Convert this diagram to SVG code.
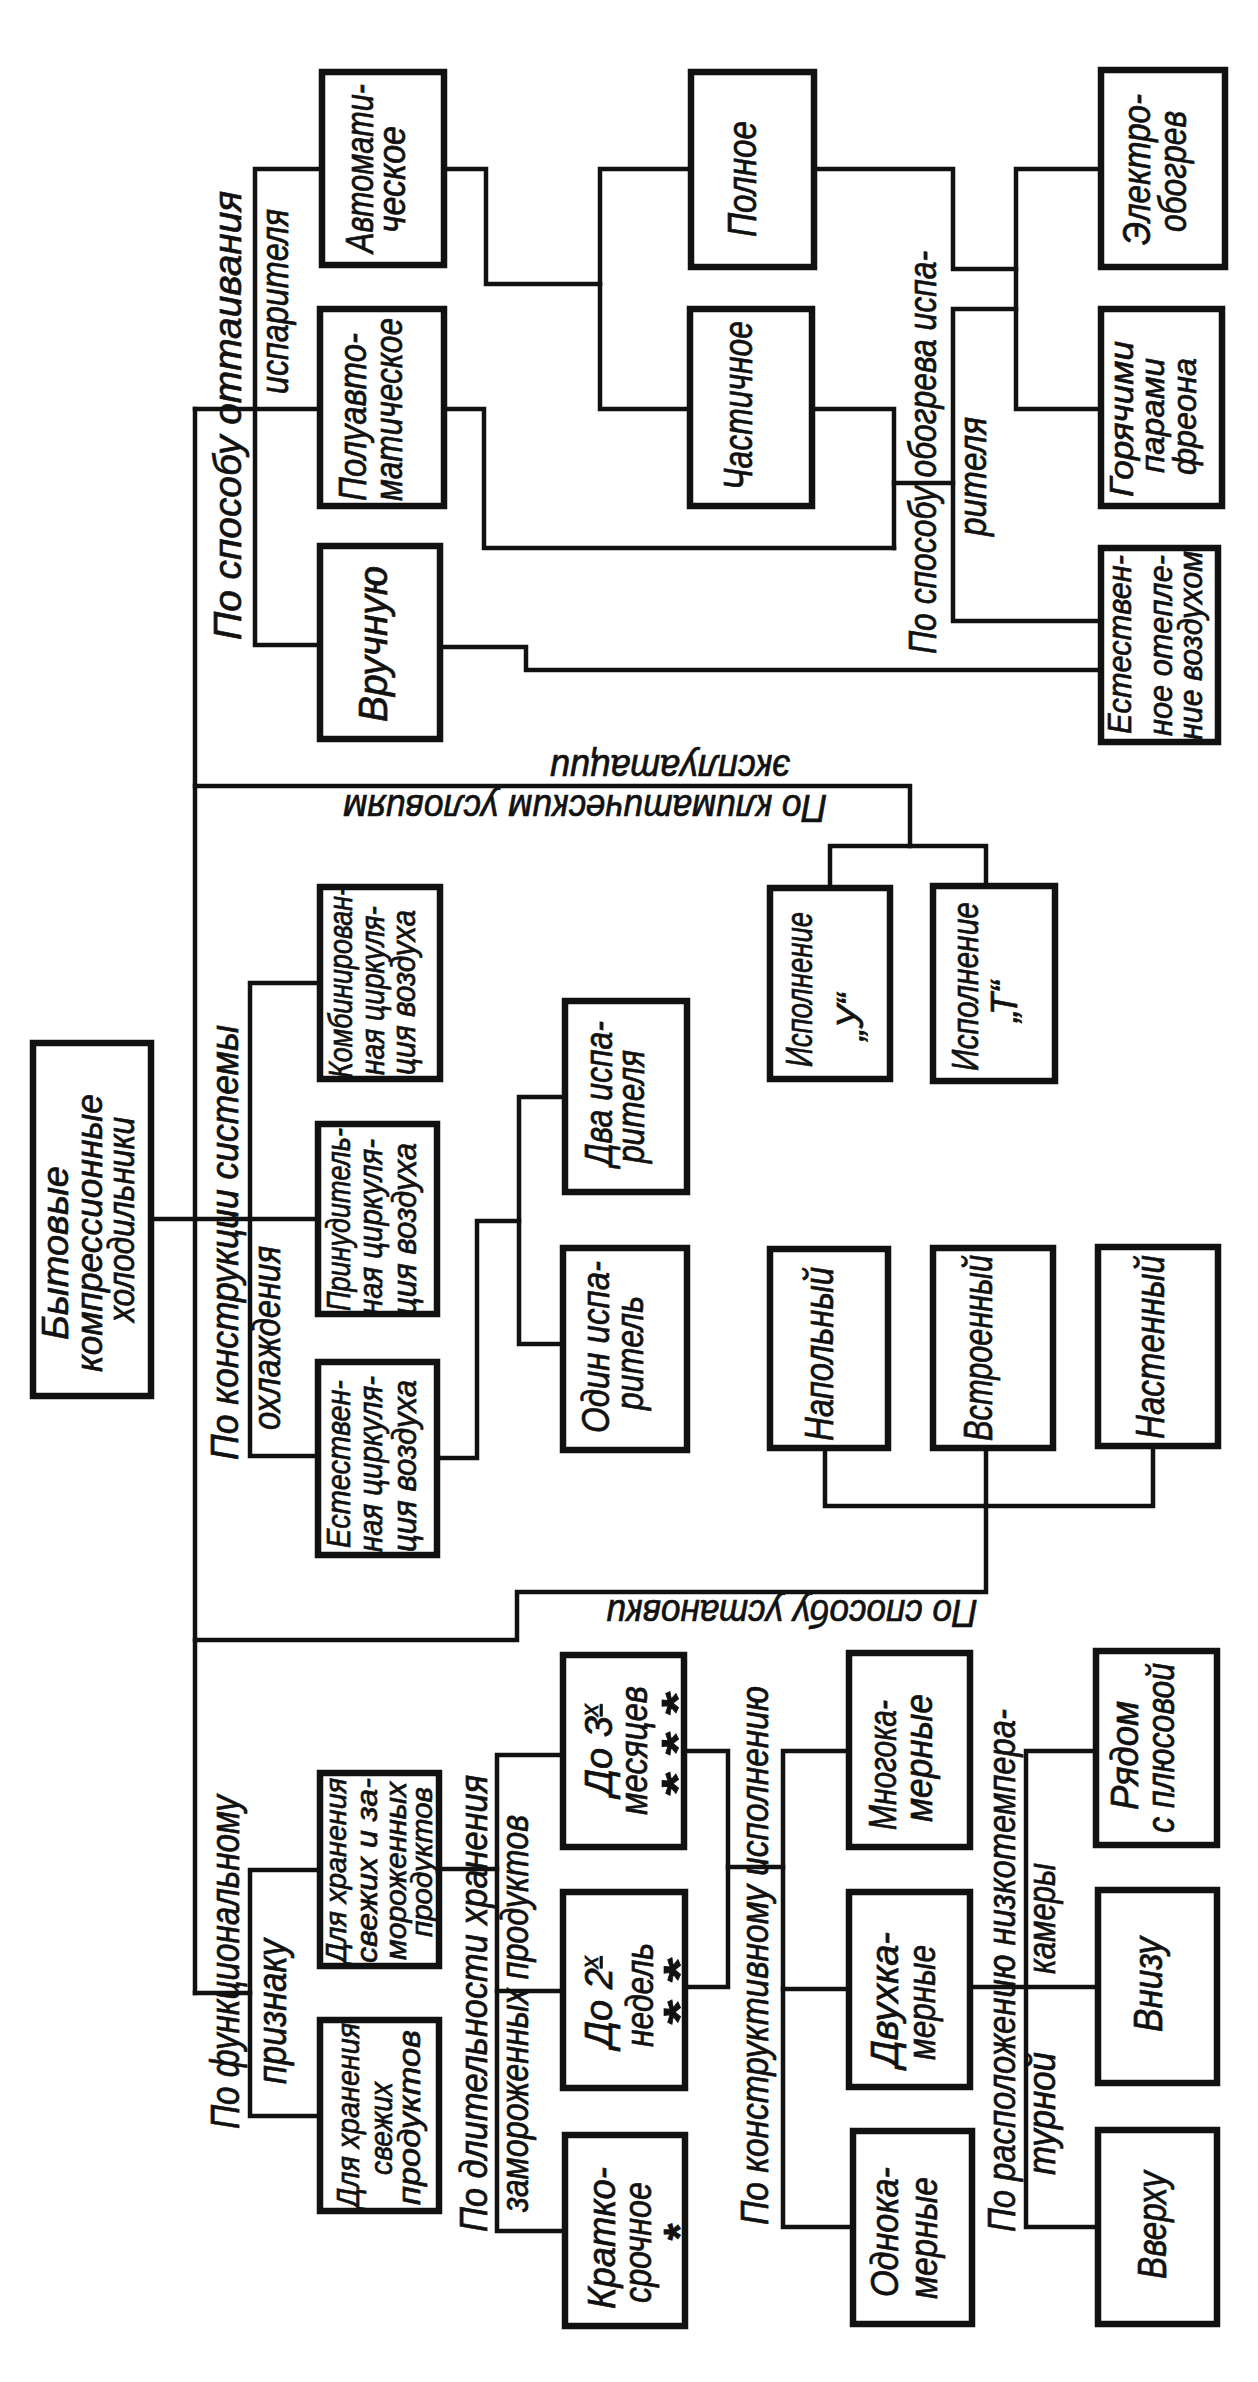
<svg xmlns="http://www.w3.org/2000/svg" width="1258" height="2382" viewBox="0 0 1258 2382">
<style>
.b{fill:#fff;stroke:#111;stroke-width:6.5}
.c{fill:none;stroke:#111;stroke-width:4.5;stroke-linejoin:miter;stroke-linecap:square}
text{font-family:"Liberation Sans",Arial,sans-serif;font-style:italic;fill:#111;stroke:#111;stroke-width:0.7}
.v{text-anchor:middle;dominant-baseline:middle}
.s{text-anchor:middle;font-weight:bold;font-style:normal}
</style>
<rect width="1258" height="2382" fill="#fff"/>
<g id="connectors">
<path class="c" d="M195 409V1993"/>
<path class="c" d="M195 409H320"/>
<path class="c" d="M322 169H255V645H320"/>
<path class="c" d="M444 169H486V284H600"/>
<path class="c" d="M691 169H600V409H690"/>
<path class="c" d="M444 409H484V548H894"/>
<path class="c" d="M812 409H894V548"/>
<path class="c" d="M894 483H953"/>
<path class="c" d="M1016 309H953V621H1101"/>
<path class="c" d="M814 169H953V269H1016"/>
<path class="c" d="M1101 169H1016V409H1101"/>
<path class="c" d="M440 647H526V670H1101"/>
<path class="c" d="M195 786H910V846"/>
<path class="c" d="M830 888V846H986V886"/>
<path class="c" d="M151 1219H318"/>
<path class="c" d="M320 983H250V1456H318"/>
<path class="c" d="M437 1458H477V1221H519"/>
<path class="c" d="M565 1097H519V1344H563"/>
<path class="c" d="M195 1640H517V1592H986V1448"/>
<path class="c" d="M825 1448V1506H1153V1446"/>
<path class="c" d="M195 1993H250"/>
<path class="c" d="M320 1870H250V2116H320"/>
<path class="c" d="M439 1869H497"/>
<path class="c" d="M563 1755H497V2231H565"/>
<path class="c" d="M497 1991H563"/>
<path class="c" d="M684 1751H728V1987H685"/>
<path class="c" d="M728 1867H783"/>
<path class="c" d="M849 1751H783V2227H853"/>
<path class="c" d="M783 1989H849"/>
<path class="c" d="M970 1987H1098"/>
<path class="c" d="M1096 1751H1026V2227H1098"/>
</g>
<g id="labels">
<text class="v" transform="rotate(-90)" x="-415.5" y="231" textLength="449" lengthAdjust="spacingAndGlyphs" font-size="38">По способу оттаивания</text>
<text class="v" transform="rotate(-90)" x="-301.5" y="278" textLength="185" lengthAdjust="spacingAndGlyphs" font-size="38">испарителя</text>
<text class="v" transform="rotate(-90)" x="-452.5" y="926" textLength="403" lengthAdjust="spacingAndGlyphs" font-size="38">По способу обогрева испа-</text>
<text class="v" transform="rotate(-90)" x="-476.5" y="976" textLength="119" lengthAdjust="spacingAndGlyphs" font-size="38">рителя</text>
<text class="v" transform="rotate(180)" x="-670" y="-765" textLength="240" lengthAdjust="spacingAndGlyphs" font-size="38">эксплуатации</text>
<text class="v" transform="rotate(180)" x="-585" y="-805" textLength="484" lengthAdjust="spacingAndGlyphs" font-size="38">По климатическим условиям</text>
<text class="v" transform="rotate(-90)" x="-1242.5" y="228" textLength="435" lengthAdjust="spacingAndGlyphs" font-size="38">По конструкции системы</text>
<text class="v" transform="rotate(-90)" x="-1338" y="270" textLength="184" lengthAdjust="spacingAndGlyphs" font-size="38">охлаждения</text>
<text class="v" transform="rotate(180)" x="-792" y="-1610" textLength="371" lengthAdjust="spacingAndGlyphs" font-size="38">По способу установки</text>
<text class="v" transform="rotate(-90)" x="-1962" y="228" textLength="334" lengthAdjust="spacingAndGlyphs" font-size="40">По функциональному</text>
<text class="v" transform="rotate(-90)" x="-2011.5" y="275" textLength="145" lengthAdjust="spacingAndGlyphs" font-size="40">признаку</text>
<text class="v" transform="rotate(-90)" x="-2003.5" y="477" textLength="457" lengthAdjust="spacingAndGlyphs" font-size="38">По длительности хранения</text>
<text class="v" transform="rotate(-90)" x="-2013.5" y="518" textLength="397" lengthAdjust="spacingAndGlyphs" font-size="38">замороженных продуктов</text>
<text class="v" transform="rotate(-90)" x="-1955.5" y="758" textLength="539" lengthAdjust="spacingAndGlyphs" font-size="38">По конструктивному исполнению</text>
<text class="v" transform="rotate(-90)" x="-1970.5" y="1005" textLength="523" lengthAdjust="spacingAndGlyphs" font-size="38">По расположению низкотемпера-</text>
<text class="v" transform="rotate(-90)" x="-2113.5" y="1045" textLength="123" lengthAdjust="spacingAndGlyphs" font-size="38">турной</text>
<text class="v" transform="rotate(-90)" x="-1918.5" y="1045" textLength="111" lengthAdjust="spacingAndGlyphs" font-size="38">камеры</text>
</g>
<g id="n-root"><rect class="b" x="33" y="1043" width="118" height="353"/>
<text class="v" transform="rotate(-90)" x="-1253" y="58" textLength="174" lengthAdjust="spacingAndGlyphs" font-size="37">Бытовые</text>
<text class="v" transform="rotate(-90)" x="-1233" y="92" textLength="278" lengthAdjust="spacingAndGlyphs" font-size="37">компрессионные</text>
<text class="v" transform="rotate(-90)" x="-1219.5" y="124" textLength="205" lengthAdjust="spacingAndGlyphs" font-size="37">холодильники</text></g>
<g id="n-avtomat"><rect class="b" x="322" y="72" width="122" height="193"/>
<text class="v" transform="rotate(-90)" x="-168.5" y="363" textLength="169" lengthAdjust="spacingAndGlyphs" font-size="38">Автомати-</text>
<text class="v" transform="rotate(-90)" x="-179.5" y="395" textLength="107" lengthAdjust="spacingAndGlyphs" font-size="38">ческое</text></g>
<g id="n-poluavto"><rect class="b" x="320" y="309" width="124" height="197"/>
<text class="v" transform="rotate(-90)" x="-417" y="356" textLength="168" lengthAdjust="spacingAndGlyphs" font-size="38">Полуавто-</text>
<text class="v" transform="rotate(-90)" x="-409.5" y="392" textLength="183" lengthAdjust="spacingAndGlyphs" font-size="38">матическое</text></g>
<g id="n-vruchnuyu"><rect class="b" x="320" y="546" width="120" height="193"/>
<text class="v" transform="rotate(-90)" x="-644" y="376" textLength="156" lengthAdjust="spacingAndGlyphs" font-size="40">Вручную</text></g>
<g id="n-polnoe"><rect class="b" x="691" y="72" width="123" height="195"/>
<text class="v" transform="rotate(-90)" x="-179" y="745" textLength="116" lengthAdjust="spacingAndGlyphs" font-size="40">Полное</text></g>
<g id="n-chastichnoe"><rect class="b" x="690" y="309" width="122" height="197"/>
<text class="v" transform="rotate(-90)" x="-405.5" y="741" textLength="169" lengthAdjust="spacingAndGlyphs" font-size="40">Частичное</text></g>
<g id="n-elektro"><rect class="b" x="1101" y="70" width="124" height="197"/>
<text class="v" transform="rotate(-90)" x="-169.5" y="1140" textLength="151" lengthAdjust="spacingAndGlyphs" font-size="38">Электро-</text>
<text class="v" transform="rotate(-90)" x="-171.5" y="1176" textLength="121" lengthAdjust="spacingAndGlyphs" font-size="38">обогрев</text></g>
<g id="n-goryachimi"><rect class="b" x="1101" y="309" width="121" height="197"/>
<text class="v" transform="rotate(-90)" x="-419" y="1124" textLength="156" lengthAdjust="spacingAndGlyphs" font-size="34">Горячими</text>
<text class="v" transform="rotate(-90)" x="-415.5" y="1155" textLength="115" lengthAdjust="spacingAndGlyphs" font-size="34">парами</text>
<text class="v" transform="rotate(-90)" x="-416.5" y="1187" textLength="117" lengthAdjust="spacingAndGlyphs" font-size="34">фреона</text></g>
<g id="n-estotepl"><rect class="b" x="1101" y="548" width="117" height="194"/>
<text class="v" transform="rotate(-90)" x="-644.5" y="1122" textLength="179" lengthAdjust="spacingAndGlyphs" font-size="33">Естествен-</text>
<text class="v" transform="rotate(-90)" x="-645.5" y="1163" textLength="181" lengthAdjust="spacingAndGlyphs" font-size="33">ное отепле-</text>
<text class="v" transform="rotate(-90)" x="-645.5" y="1193" textLength="189" lengthAdjust="spacingAndGlyphs" font-size="33">ние воздухом</text></g>
<g id="n-kombin"><rect class="b" x="320" y="887" width="120" height="192"/>
<text class="v" transform="rotate(-90)" x="-982.5" y="343" textLength="191" lengthAdjust="spacingAndGlyphs" font-size="33">Комбинирован-</text>
<text class="v" transform="rotate(-90)" x="-990.5" y="375" textLength="169" lengthAdjust="spacingAndGlyphs" font-size="33">ная циркуля-</text>
<text class="v" transform="rotate(-90)" x="-992.5" y="406" textLength="165" lengthAdjust="spacingAndGlyphs" font-size="33">ция воздуха</text></g>
<g id="n-prinud"><rect class="b" x="318" y="1124" width="119" height="190"/>
<text class="v" transform="rotate(-90)" x="-1219.5" y="341" textLength="183" lengthAdjust="spacingAndGlyphs" font-size="33">Принудитель-</text>
<text class="v" transform="rotate(-90)" x="-1227" y="373" textLength="176" lengthAdjust="spacingAndGlyphs" font-size="33">ная циркуля-</text>
<text class="v" transform="rotate(-90)" x="-1229" y="407" textLength="172" lengthAdjust="spacingAndGlyphs" font-size="33">ция воздуха</text></g>
<g id="n-estcirk"><rect class="b" x="318" y="1362" width="119" height="193"/>
<text class="v" transform="rotate(-90)" x="-1464" y="341" textLength="168" lengthAdjust="spacingAndGlyphs" font-size="33">Естествен-</text>
<text class="v" transform="rotate(-90)" x="-1464" y="373" textLength="176" lengthAdjust="spacingAndGlyphs" font-size="33">ная циркуля-</text>
<text class="v" transform="rotate(-90)" x="-1466" y="407" textLength="172" lengthAdjust="spacingAndGlyphs" font-size="33">ция воздуха</text></g>
<g id="n-dva"><rect class="b" x="565" y="1001" width="122" height="191"/>
<text class="v" transform="rotate(-90)" x="-1093.5" y="602" textLength="145" lengthAdjust="spacingAndGlyphs" font-size="38">Два испа-</text>
<text class="v" transform="rotate(-90)" x="-1106.5" y="634" textLength="113" lengthAdjust="spacingAndGlyphs" font-size="38">рителя</text></g>
<g id="n-odin"><rect class="b" x="563" y="1248" width="124" height="202"/>
<text class="v" transform="rotate(-90)" x="-1347" y="599" textLength="172" lengthAdjust="spacingAndGlyphs" font-size="38">Один испа-</text>
<text class="v" transform="rotate(-90)" x="-1353" y="633" textLength="114" lengthAdjust="spacingAndGlyphs" font-size="38">ритель</text></g>
<g id="n-ispU"><rect class="b" x="770" y="888" width="120" height="191"/>
<text class="v" transform="rotate(-90)" x="-989.5" y="802" textLength="155" lengthAdjust="spacingAndGlyphs" font-size="36">Исполнение</text>
<text class="v" transform="rotate(-90)" x="-1017" y="853" font-size="36">„У“</text></g>
<g id="n-ispT"><rect class="b" x="933" y="886" width="122" height="195"/>
<text class="v" transform="rotate(-90)" x="-986.5" y="968" textLength="169" lengthAdjust="spacingAndGlyphs" font-size="36">Исполнение</text>
<text class="v" transform="rotate(-90)" x="-1001.5" y="1007" font-size="36">„Т“</text></g>
<g id="n-napol"><rect class="b" x="770" y="1249" width="118" height="199"/>
<text class="v" transform="rotate(-90)" x="-1354" y="822" textLength="174" lengthAdjust="spacingAndGlyphs" font-size="40">Напольный</text></g>
<g id="n-vstroen"><rect class="b" x="933" y="1248" width="120" height="200"/>
<text class="v" transform="rotate(-90)" x="-1348" y="981" textLength="186" lengthAdjust="spacingAndGlyphs" font-size="40">Встроенный</text></g>
<g id="n-nasten"><rect class="b" x="1098" y="1247" width="120" height="199"/>
<text class="v" transform="rotate(-90)" x="-1347" y="1153" textLength="184" lengthAdjust="spacingAndGlyphs" font-size="40">Настенный</text></g>
<g id="n-svezhzam"><rect class="b" x="320" y="1773" width="119" height="193"/>
<text class="v" transform="rotate(-90)" x="-1870.5" y="338" textLength="185" lengthAdjust="spacingAndGlyphs" font-size="29">Для хранения</text>
<text class="v" transform="rotate(-90)" x="-1870.5" y="369" textLength="185" lengthAdjust="spacingAndGlyphs" font-size="29">свежих и за-</text>
<text class="v" transform="rotate(-90)" x="-1871" y="398" textLength="178" lengthAdjust="spacingAndGlyphs" font-size="29">мороженных</text>
<text class="v" transform="rotate(-90)" x="-1862" y="424" textLength="150" lengthAdjust="spacingAndGlyphs" font-size="29">продуктов</text></g>
<g id="n-svezh"><rect class="b" x="320" y="2020" width="119" height="191"/>
<text class="v" transform="rotate(-90)" x="-2115.5" y="351" textLength="185" lengthAdjust="spacingAndGlyphs" font-size="32">Для хранения</text>
<text class="v" transform="rotate(-90)" x="-2128.5" y="384" textLength="93" lengthAdjust="spacingAndGlyphs" font-size="32">свежих</text>
<text class="v" transform="rotate(-90)" x="-2117.5" y="412" textLength="175" lengthAdjust="spacingAndGlyphs" font-size="32">продуктов</text></g>
<g id="n-do3"><rect class="b" x="563" y="1655" width="121" height="192"/>
<text class="v" transform="rotate(-90)" x="-1750" y="602" font-size="38">До 3<tspan font-size="24" baseline-shift="45%" text-decoration="underline">х</tspan></text>
<text class="v" transform="rotate(-90)" x="-1750.5" y="637" textLength="129" lengthAdjust="spacingAndGlyphs" font-size="38">месяцев</text>
<text class="s" transform="rotate(-90)" x="-1743.5" y="693" textLength="104" lengthAdjust="spacingAndGlyphs" font-size="44">* * *</text></g>
<g id="n-do2"><rect class="b" x="563" y="1892" width="122" height="196"/>
<text class="v" transform="rotate(-90)" x="-2002" y="602" font-size="38">До 2<tspan font-size="24" baseline-shift="45%" text-decoration="underline">х</tspan></text>
<text class="v" transform="rotate(-90)" x="-1995" y="643" textLength="104" lengthAdjust="spacingAndGlyphs" font-size="38">недель</text>
<text class="s" transform="rotate(-90)" x="-1991" y="695" textLength="67" lengthAdjust="spacingAndGlyphs" font-size="44">* *</text></g>
<g id="n-kratko"><rect class="b" x="565" y="2135" width="120" height="191"/>
<text class="v" transform="rotate(-90)" x="-2238" y="605" textLength="142" lengthAdjust="spacingAndGlyphs" font-size="38">Кратко-</text>
<text class="v" transform="rotate(-90)" x="-2242.5" y="641" textLength="121" lengthAdjust="spacingAndGlyphs" font-size="38">срочное</text>
<text class="s" transform="rotate(-90)" x="-2232" y="695" font-size="44">*</text></g>
<g id="n-mnogo"><rect class="b" x="849" y="1653" width="121" height="194"/>
<text class="v" transform="rotate(-90)" x="-1765" y="886" textLength="130" lengthAdjust="spacingAndGlyphs" font-size="38">Многока-</text>
<text class="v" transform="rotate(-90)" x="-1758" y="922" textLength="128" lengthAdjust="spacingAndGlyphs" font-size="38">мерные</text></g>
<g id="n-dvuh"><rect class="b" x="849" y="1892" width="121" height="195"/>
<text class="v" transform="rotate(-90)" x="-1999.5" y="888" textLength="135" lengthAdjust="spacingAndGlyphs" font-size="38">Двухка-</text>
<text class="v" transform="rotate(-90)" x="-2002.5" y="925" textLength="115" lengthAdjust="spacingAndGlyphs" font-size="38">мерные</text></g>
<g id="n-odno"><rect class="b" x="853" y="2131" width="119" height="193"/>
<text class="v" transform="rotate(-90)" x="-2232" y="888" textLength="130" lengthAdjust="spacingAndGlyphs" font-size="38">Однока-</text>
<text class="v" transform="rotate(-90)" x="-2238" y="927" textLength="122" lengthAdjust="spacingAndGlyphs" font-size="38">мерные</text></g>
<g id="n-ryadom"><rect class="b" x="1096" y="1651" width="121" height="194"/>
<text class="v" transform="rotate(-90)" x="-1755.5" y="1128" textLength="109" lengthAdjust="spacingAndGlyphs" font-size="38">Рядом</text>
<text class="v" transform="rotate(-90)" x="-1748" y="1164" textLength="170" lengthAdjust="spacingAndGlyphs" font-size="38">с плюсовой</text></g>
<g id="n-vnizu"><rect class="b" x="1098" y="1890" width="119" height="193"/>
<text class="v" transform="rotate(-90)" x="-1984.5" y="1151" textLength="95" lengthAdjust="spacingAndGlyphs" font-size="40">Внизу</text></g>
<g id="n-vverhu"><rect class="b" x="1098" y="2130" width="119" height="194"/>
<text class="v" transform="rotate(-90)" x="-2225" y="1155" textLength="108" lengthAdjust="spacingAndGlyphs" font-size="40">Вверху</text></g>
</svg>
